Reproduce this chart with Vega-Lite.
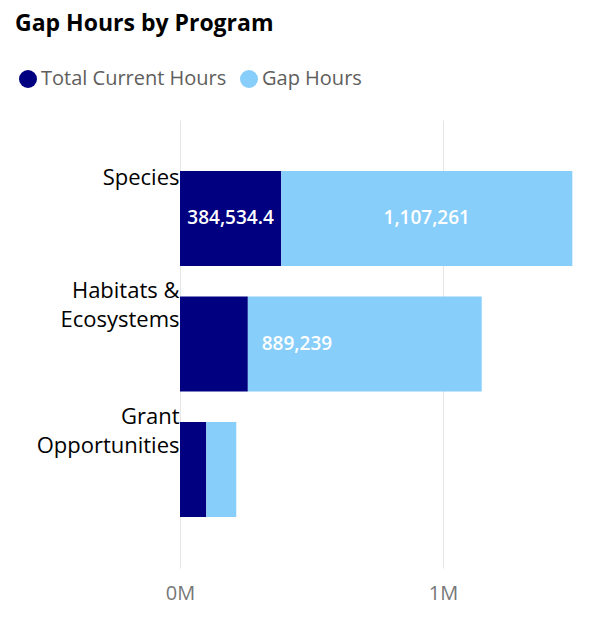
{
  "$schema": "https://vega.github.io/schema/vega-lite/v6.json",
  "autosize": {"type": "none"},
  "width": 405,
  "height": 448,
  "padding": {"left": 180, "top": 120, "right": 11, "bottom": 62},
  "background": "white",
  "title": {
    "text": "Gap Hours by Program",
    "anchor": "start",
    "frame": "group",
    "dx": -165,
    "fontSize": 23,
    "font": "Open Sans",
    "fontWeight": "bold",
    "color": "#000000",
    "offset": 33
  },
  "data": {
    "values": [
      {"Program": "Species", "Measure": "Total Current Hours", "Hours": 384534.4},
      {"Program": "Species", "Measure": "Gap Hours", "Hours": 1107261},
      {"Program": "Habitats & Ecosystems", "Measure": "Total Current Hours", "Hours": 258000},
      {"Program": "Habitats & Ecosystems", "Measure": "Gap Hours", "Hours": 889239},
      {"Program": "Grant Opportunities", "Measure": "Total Current Hours", "Hours": 100000},
      {"Program": "Grant Opportunities", "Measure": "Gap Hours", "Hours": 114000}
    ]
  },
  "encoding": {
    "y": {
      "field": "Program",
      "type": "nominal",
      "sort": ["Species", "Habitats & Ecosystems", "Grant Opportunities"],
      "scale": {"paddingInner": 0.243, "paddingOuter": 0.406},
      "axis": {
        "title": null,
        "domain": false,
        "ticks": false,
        "labelPadding": 1,
        "labelOffset": {"condition": {"test": "datum.value != 'Species'", "value": -53}, "value": -40},
        "labelFontSize": 22,
        "labelFont": "Open Sans",
        "labelColor": "#000000",
        "labelLineHeight": 29,
        "labelLimit": 200,
        "labelExpr": "datum.label == 'Habitats & Ecosystems' ? ['Habitats &', 'Ecosystems'] : datum.label == 'Grant Opportunities' ? ['Grant', 'Opportunities'] : datum.label"
      }
    },
    "x": {
      "field": "Hours",
      "type": "quantitative",
      "stack": "zero",
      "scale": {"domain": [0, 1540000], "nice": false},
      "axis": {
        "title": null,
        "values": [0, 1000000],
        "labelExpr": "format(datum.value / 1000000, 'd') + 'M'",
        "domain": false,
        "ticks": false,
        "grid": true,
        "gridColor": "#e6e6e6",
        "gridWidth": 1,
        "labelFontSize": 20,
        "labelFont": "Open Sans",
        "labelColor": "#777777",
        "labelAlign": "center",
        "labelFlush": false,
        "labelPadding": 15
      }
    },
    "order": {"field": "Measure", "sort": "descending"}
  },
  "layer": [
    {
      "mark": {"type": "bar"},
      "encoding": {
        "color": {
          "field": "Measure",
          "type": "nominal",
          "scale": {
            "domain": ["Total Current Hours", "Gap Hours"],
            "range": ["#000080", "#87CEFA"]
          },
          "legend": {
            "title": null,
            "orient": "none",
            "direction": "horizontal",
            "legendX": -162,
            "legendY": -51,
            "symbolType": "circle",
            "symbolSize": 324,
            "symbolStrokeWidth": 0,
            "labelFontSize": 20,
            "labelFont": "Open Sans",
            "labelColor": "#605E5C",
            "labelOffset": 3,
            "columnPadding": 12,
            "labelLimit": 300
          }
        }
      }
    },
    {
      "transform": [{"filter": "datum.Hours >= 300000"}],
      "mark": {
        "type": "text",
        "color": "white",
        "fontSize": 19,
        "fontWeight": 600,
        "font": "Open Sans",
        "align": "center",
        "baseline": "middle"
      },
      "encoding": {
        "x": {"field": "Hours", "type": "quantitative", "stack": "zero", "bandPosition": 0.5},
        "text": {"field": "Hours", "type": "quantitative", "format": ",~f"}
      }
    }
  ],
  "config": {"view": {"stroke": null}}
}
